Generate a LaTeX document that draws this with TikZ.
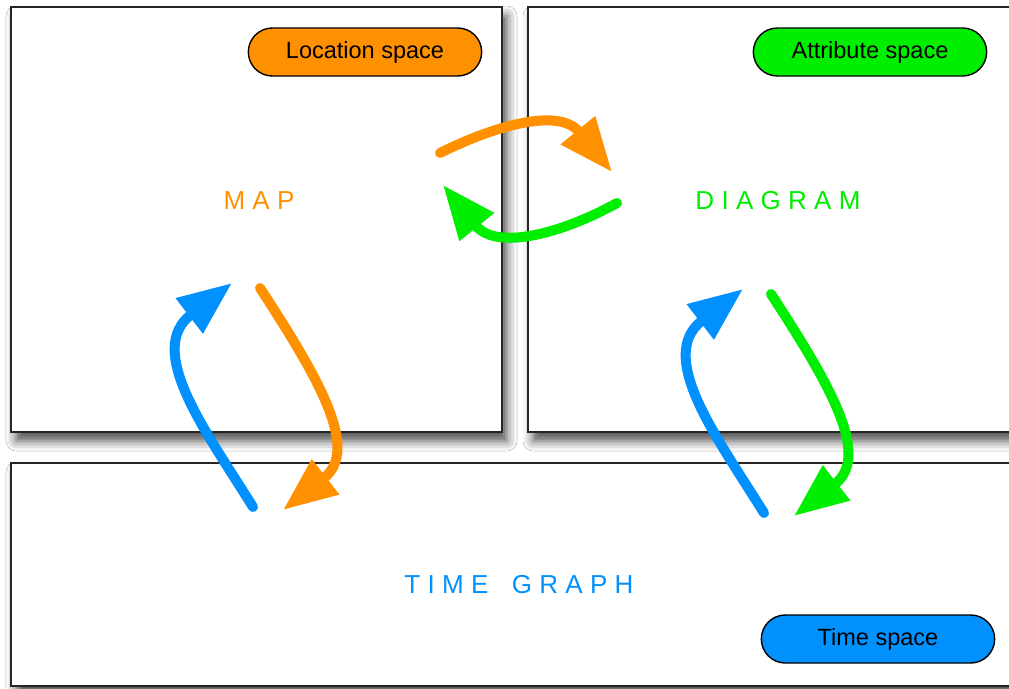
\documentclass[tikz,border=0pt]{standalone}
\usepackage{fontspec}
\setmainfont{Liberation Sans}
\newfontfamily\spacedfont[LetterSpace=28]{Liberation Sans}
\usetikzlibrary{arrows.meta,positioning,shapes.misc,shadows.blur}

\definecolor{locorange}{RGB}{255,145,0}
\definecolor{attrgreen}{RGB}{0,238,0}
\definecolor{timeblue}{RGB}{0,145,255}

\tikzset{
  panel/.style={draw=black!85, line width=1.6pt, fill=white, inner sep=0pt,
    blur shadow={shadow xshift=5pt, shadow yshift=-9pt,
      shadow blur radius=10pt, shadow opacity=70}},
  pill/.style={rounded rectangle, draw=black, line width=1.4pt,
    minimum width=240pt, minimum height=48pt,
    font=\fontsize{23.5}{27}\selectfont},
  title/.style={font=\spacedfont\fontsize{26}{30}\selectfont},
  flow/.style={line width=10pt, line cap=round,
    -{Triangle[length=54pt,width=42pt]}}
}

\begin{document}
\begin{tikzpicture}[x=1pt,y=-1pt]
\fill[white] (0,0) rectangle (1009,688);
\useasboundingbox (0,0) rectangle (1009,688);

% the three spaces
\node[panel, minimum width=491pt, minimum height=425pt] (mapbox) at (256.5,219.5) {};
\node[panel, minimum width=502pt, minimum height=425pt] (diagbox) at (779,219.5) {};
\node[panel, minimum width=1019pt, minimum height=223pt] (timebox) at (520.5,574.5) {};

\node[pill, fill=locorange] (loc) at (365,52) {Location space};
\node[pill, fill=attrgreen] (attr) at (870,52) {Attribute space};
\node[pill, fill=timeblue] (tspace) at (878,639) {Time space};

\node[title, text=locorange] (map) at (259,201) {MAP};
\node[title, text=attrgreen] (diagram) at (778,201) {DIAGRAM};
\node[title, text=timeblue] (timegraph) at (519,585) {TIME\hspace{9pt} GRAPH};

% map <-> diagram
\coordinate (m2d-a) at (440,153);
\coordinate (m2d-b) at (612,172);
\coordinate (d2m-a) at (617,203);
\coordinate (d2m-b) at (443,185);
\draw[flow, locorange] (m2d-a) .. controls (490,128) and (558,106) .. (m2d-b);
\draw[flow, attrgreen] (d2m-a) .. controls (565,232) and (497,252) .. (d2m-b);

% time graph <-> map / diagram
\foreach \dx/\dy/\col/\sec in {0/0/locorange/map, 511/6/attrgreen/diag}{
  \begin{scope}[shift={(\dx,\dy)}]
    \coordinate (\sec-tg) at (253,507);
    \coordinate (\sec-in) at (232,283);
    \coordinate (\sec-out) at (260,288);
    \coordinate (\sec-ret) at (283,510);
    \draw[flow, timeblue] (\sec-tg) .. controls (205,430) and (145,350) .. (\sec-in);
    \draw[flow, \col] (\sec-out) .. controls (320,380) and (360,450) .. (\sec-ret);
  \end{scope}
}
\end{tikzpicture}
\end{document}
